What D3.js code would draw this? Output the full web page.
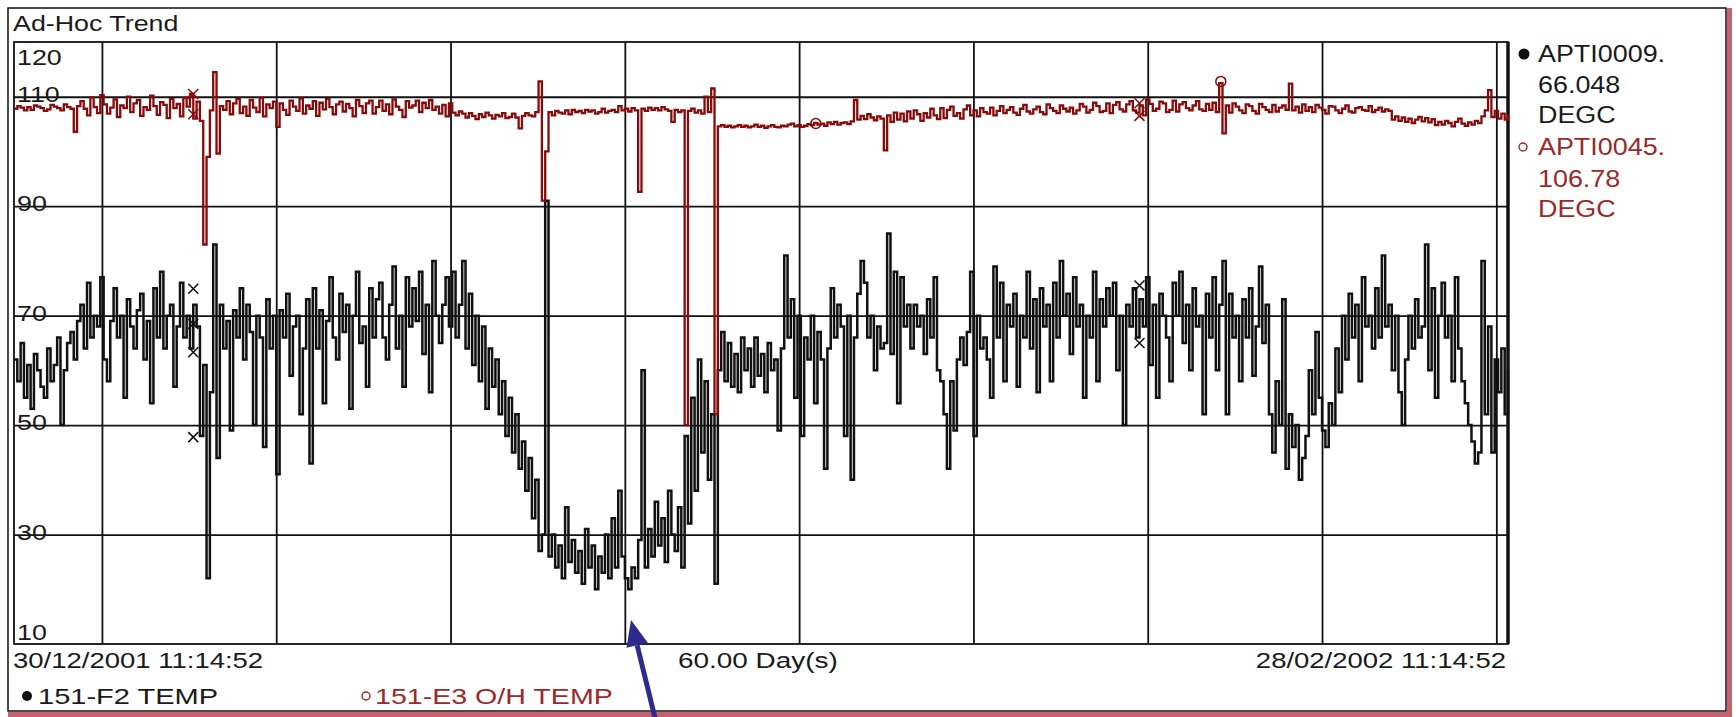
<!DOCTYPE html>
<html><head><meta charset="utf-8">
<script src="https://cdn.jsdelivr.net/npm/d3@7"></script>
<style>
html,body{margin:0;padding:0;background:#fff;}
svg{display:block;}
text{font-family:"Liberation Sans",Arial,sans-serif;}
</style>
</head><body>
<svg id="c" width="1736" height="717"></svg>
<script>
// ---------------- data ----------------
const chartTitle = "Ad-Hoc Trend";
const startLabel = "30/12/2001 11:14:52";
const endLabel = "28/02/2002 11:14:52";
const spanLabel = "60.00 Day(s)";
const yTickLabels = [120, 110, 90, 70, 50, 30, 10];
const yGridValues = [110, 90, 70, 50, 30];
const seriesNames = ["151-F2 TEMP", "151-E3 O/H TEMP"];
const tagNames = ["APTI0009.", "APTI0045."];
const tagValues = ["66.048", "106.78"];
const tagUnits = ["DEGC", "DEGC"];

// 151-F2 TEMP (black), evenly sampled over the 60 days
const f2Temp = [
62,58,65,55,61,53,63,60,57,55,
64,58,61,66,50,60,65,67,62,69,
72,64,76,66,70,68,77,62,58,69,
75,66,70,55,73,68,64,71,74,62,
69,54,75,66,78,64,70,72,57,68,
76,66,70,64,72,68,48,61,22,56,
83,44,72,64,69,49,71,66,75,62,
72,67,50,70,66,46,73,64,70,41,
71,66,74,59,68,70,52,64,73,43,
75,64,71,54,69,77,66,62,74,67,
72,53,70,78,65,68,57,75,66,73,
76,66,62,72,79,64,70,57,77,68,
75,69,78,63,72,56,80,70,65,72,
77,68,78,66,72,80,64,74,61,70,
58,68,53,64,57,62,52,58,48,55,
45,52,42,47,38,44,33,40,27,30,
91,26,30,24,28,22,35,25,29,23,
27,21,31,24,28,20,26,23,30,22,
33,24,38,26,22,20,24,22,29,60,
24,31,26,36,28,33,25,38,30,27,
35,24,48,32,55,38,62,45,58,40,
52,21,60,67,58,65,57,63,56,66,
60,64,57,66,59,63,56,65,60,62,
49,64,81,66,73,55,70,48,66,62,
70,54,67,62,42,64,75,66,72,68,
48,70,40,66,74,80,76,66,70,60,
68,64,65,85,63,78,54,77,68,72,
64,72,68,70,63,73,66,77,60,58,
52,42,58,49,62,66,61,67,78,48,
70,64,66,62,55,79,66,76,58,72,
68,74,57,70,66,78,64,73,56,75,
68,72,58,76,66,80,70,74,63,77,
68,72,55,70,66,78,58,73,68,75,
70,76,60,70,50,72,68,75,66,73,
68,77,61,72,55,74,70,66,58,76,
70,78,65,72,60,75,68,70,52,74,
66,77,60,72,80,52,74,66,70,58,
73,66,75,59,68,79,65,72,52,45,
58,50,73,42,52,46,50,40,44,48,
60,52,67,55,49,46,54,50,64,56,
70,62,74,66,72,58,77,68,70,64,
75,66,81,68,72,60,70,56,50,62,
70,64,73,66,68,83,60,75,55,70,
76,66,70,58,77,64,58,54,50,47,
43,45,80,52,68,45,62,56,64,52,
60
];

// 151-E3 O/H TEMP (dark red), same sampling
const e3Temp = [
107.8,108.3,108.0,107.5,108.1,107.6,108.4,108.2,107.9,107.4,
107.7,108.5,108.2,107.9,107.5,108.6,108.1,107.8,103.6,108.3,
109.2,107.8,106.6,109.9,108.1,107.0,110.3,108.6,106.9,108.0,
109.5,106.3,108.4,107.9,110.0,107.2,108.8,109.4,106.5,108.1,
107.6,110.2,108.3,106.7,109.0,108.5,106.1,109.6,107.9,108.7,
106.4,109.8,108.2,110.5,106.0,109.1,105.6,83.0,99.0,107.5,
114.5,99.6,108.3,107.6,109.2,106.8,108.8,109.6,107.0,108.2,
106.5,109.4,108.0,107.2,109.8,106.4,108.6,107.9,109.1,104.5,
108.8,107.6,106.7,109.3,108.2,107.4,109.7,106.9,108.4,107.8,
109.2,106.5,108.9,107.7,109.6,108.1,106.8,108.6,109.1,107.3,
108.7,107.9,106.4,109.4,108.3,107.0,108.8,109.3,106.9,108.1,
109.3,107.4,108.6,106.8,109.5,108.2,107.6,106.3,109.2,108.0,
108.4,109.3,107.2,108.9,107.9,109.4,107.6,108.2,106.9,108.5,
106.4,108.8,107.1,106.6,107.3,106.9,106.2,107.0,106.5,105.9,
106.8,106.3,107.1,106.6,106.0,106.7,106.4,107.0,106.1,106.3,
106.9,106.2,104.2,106.5,107.0,106.6,106.4,107.2,112.8,91.0,
100.0,107.2,106.6,107.4,107.1,106.9,107.5,106.8,107.6,107.2,
107.4,107.0,107.6,107.3,107.5,106.9,107.2,107.8,107.1,107.4,
107.6,107.2,108.3,107.5,107.8,107.3,107.9,107.5,92.6,107.8,
107.4,108.0,107.6,107.9,107.5,108.1,107.7,107.4,105.4,107.6,
107.2,107.5,50.0,107.4,107.8,107.1,107.5,106.9,110.0,107.2,
111.5,52.0,104.6,104.8,104.5,104.7,104.4,104.6,104.8,104.5,
104.7,104.4,104.6,104.9,104.5,104.7,104.3,104.6,104.8,104.5,
104.4,104.7,104.6,104.9,105.1,104.6,104.8,104.5,104.7,105.0,
104.8,105.2,104.9,105.1,104.7,105.3,105.0,105.4,104.9,105.2,
105.3,105.0,105.5,109.4,105.8,106.5,105.9,106.8,106.2,105.7,
106.4,106.0,100.2,106.6,105.4,107.1,105.8,106.9,105.5,107.3,
106.0,107.5,106.8,105.6,107.0,106.2,107.8,106.6,105.9,107.9,
106.1,107.6,108.2,106.5,107.0,106.0,107.7,108.4,106.6,107.5,
106.4,107.9,107.2,106.9,108.0,106.6,107.4,108.3,107.0,107.6,
108.1,107.1,106.7,107.8,108.5,107.3,106.9,107.7,108.2,107.2,
106.8,108.6,107.9,107.4,107.0,108.4,107.8,107.3,108.0,106.9,
107.5,108.7,108.2,107.1,107.6,108.9,108.3,107.2,107.4,108.8,
107.0,108.5,109.0,107.7,107.3,108.6,109.2,107.5,107.1,108.4,
106.6,109.5,108.7,107.4,107.8,109.1,108.8,107.2,107.6,109.3,
107.3,108.6,109.0,107.9,107.5,108.4,109.2,107.7,107.4,108.7,
107.6,108.9,107.2,112.5,103.3,108.4,107.1,108.8,108.2,107.5,
107.0,108.6,108.3,107.4,106.9,108.7,108.1,107.6,107.2,108.5,
107.3,108.0,108.4,107.6,112.4,107.5,108.2,107.1,108.6,107.4,
108.1,107.2,108.5,108.0,107.6,106.9,108.3,108.2,107.5,107.0,
107.8,108.4,107.3,107.1,107.9,108.1,107.6,107.4,108.3,107.2,
107.6,108.0,107.3,107.7,107.4,105.8,106.4,105.6,106.2,105.4,
106.0,105.2,105.8,106.3,105.5,106.1,105.3,105.9,104.8,105.4,
104.9,105.6,105.2,104.6,105.4,106.0,105.1,104.7,105.3,104.9,
105.6,105.2,106.4,107.5,111.2,106.3,107.4,106.0,106.9,105.8,
106.8
];

// marker points (sample index, value)
const f2CrossMarks = [
  {i: 54, v: 74.9}, {i: 54, v: 68.5}, {i: 54, v: 63.3}, {i: 54, v: 47.8},
  {i: 339, v: 75.5}, {i: 339, v: 65.0}
];
const e3CrossMarks = [
  {i: 54, v: 110.5}, {i: 54, v: 106.8},
  {i: 339, v: 108.8}, {i: 339, v: 106.5}
];
const e3CircleMarks = [{i: 241.5, v: 105.1}, {i: 363.5, v: 112.8}];

// ---------------- chart ----------------
const svg = d3.select("#c");
const W = 1736, H = 717;
const plot = {left: 14, right: 1508, top: 42, bottom: 644};
const black = "#111", red = "#860b0b", redText = "#9a2a2a";

const t0 = new Date(2001, 11, 30, 11, 14, 52);
const t1 = new Date(2002, 1, 28, 11, 14, 52);
const x = d3.scaleTime().domain([t0, t1]).range([plot.left, plot.right]);
const y = d3.scaleLinear().domain([10, 120]).range([plot.bottom, plot.top]);
const step = (t1 - t0) / (f2Temp.length - 1);
const dateAt = i => new Date(+t0 + i * step);

svg.append("rect").attr("width", W).attr("height", H).attr("fill", "#fff");

// outer frame
svg.append("path").attr("d", `M8,711 V8 H1726 V711 Z`).attr("fill", "none")
  .attr("stroke", "#111").attr("stroke-width", 1.5);
svg.append("rect").attr("x", 1727).attr("y", 8).attr("width", 5).attr("height", 709).attr("fill", "#c9626f");
svg.append("rect").attr("x", 8).attr("y", 712).attr("width", 1724).attr("height", 5).attr("fill", "#c9626f");

// gridlines via axes
const gridDates = d3.timeThursday.range(t0, t1);
const gx = svg.append("g").attr("transform", `translate(0,${plot.top})`)
  .call(d3.axisBottom(x).tickValues(gridDates).tickSize(plot.bottom - plot.top).tickFormat(""));
gx.select(".domain").remove();
gx.selectAll("line").attr("stroke", black).attr("stroke-width", 1.8);

const gy = svg.append("g").attr("transform", `translate(${plot.left},0)`)
  .call(d3.axisRight(y).tickValues(yGridValues).tickSize(plot.right - plot.left).tickFormat(""));
gy.select(".domain").remove();
gy.selectAll("line").attr("stroke", black).attr("stroke-width", 1.8);

// plot border
svg.append("rect").attr("x", plot.left).attr("y", plot.top)
  .attr("width", plot.right - plot.left).attr("height", plot.bottom - plot.top)
  .attr("fill", "none").attr("stroke", black).attr("stroke-width", 1.8);
svg.append("line").attr("x1", plot.right).attr("x2", plot.right)
  .attr("y1", plot.top).attr("y2", plot.bottom).attr("stroke", black).attr("stroke-width", 3.5);

// text helper (bitmap-like wide font)
function label(txt, px, py, opts) {
  const o = Object.assign({sx: 1.25, size: 22, fill: "#1a1a1a", anchor: "start"}, opts || {});
  return svg.append("text")
    .attr("transform", `translate(${px},${py}) scale(${o.sx},1)`)
    .attr("font-size", o.size).attr("fill", o.fill).attr("text-anchor", o.anchor).text(txt);
}

// y labels
yTickLabels.forEach(v => {
  let by = y(v) + 5;
  if (v === d3.max(yTickLabels)) by = y(v) + 23;
  if (v === d3.min(yTickLabels)) by = y(v) - 4;
  label(String(v), 17, by, {sx: 1.22});
});

// series (trend recorder draws sample-and-hold steps)
const lineGen = d3.line().x((d, i) => x(dateAt(i))).y(d => y(d)).curve(d3.curveStepAfter);
svg.append("path").datum(f2Temp).attr("d", lineGen).attr("fill", "none")
  .attr("stroke", black).attr("stroke-width", 2.5).attr("stroke-linejoin", "miter");
svg.append("path").datum(e3Temp).attr("d", lineGen).attr("fill", "none")
  .attr("stroke", red).attr("stroke-width", 2.3).attr("stroke-linejoin", "miter");

// markers
function cross(d, color) {
  const cx = x(dateAt(d.i)), cy = y(d.v), s = 5;
  svg.append("path").attr("d", `M${cx - s},${cy - s}L${cx + s},${cy + s}M${cx - s},${cy + s}L${cx + s},${cy - s}`)
    .attr("stroke", color).attr("stroke-width", 1.5).attr("fill", "none");
}
f2CrossMarks.forEach(d => cross(d, black));
e3CrossMarks.forEach(d => cross(d, red));
e3CircleMarks.forEach(d => {
  svg.append("circle").attr("cx", x(dateAt(d.i))).attr("cy", y(d.v)).attr("r", 5)
    .attr("fill", "none").attr("stroke", red).attr("stroke-width", 1.5);
});

// title and x labels
label(chartTitle, 13, 31, {sx: 1.22});
label(startLabel, 13, 668);
label(spanLabel, 678, 668, {sx: 1.27});
label(endLabel, 1506, 668, {anchor: "end"});

// bottom legend
svg.append("circle").attr("cx", 27).attr("cy", 696).attr("r", 5).attr("fill", black);
label(seriesNames[0], 38, 704, {sx: 1.32});
svg.append("circle").attr("cx", 366).attr("cy", 696).attr("r", 4).attr("fill", "none")
  .attr("stroke", redText).attr("stroke-width", 1.4);
label(seriesNames[1], 375, 704, {sx: 1.3, fill: redText});

// right legend
const lx = 1538;
svg.append("circle").attr("cx", 1524).attr("cy", 54).attr("r", 5.5).attr("fill", black);
label(tagNames[0], lx, 62, {sx: 1.17, size: 23});
label(tagValues[0], lx, 93, {sx: 1.17, size: 23});
label(tagUnits[0], lx, 123, {sx: 1.17, size: 23});
svg.append("circle").attr("cx", 1523).attr("cy", 147).attr("r", 4).attr("fill", "none")
  .attr("stroke", redText).attr("stroke-width", 1.4);
label(tagNames[1], lx, 155, {sx: 1.17, size: 23, fill: redText});
label(tagValues[1], lx, 187, {sx: 1.17, size: 23, fill: redText});
label(tagUnits[1], lx, 217, {sx: 1.17, size: 23, fill: redText});

// annotation arrow (navy)
const tip = [631, 620], tail = [656, 722];
const ang = Math.atan2(tip[1] - tail[1], tip[0] - tail[0]);
const hl = 26, hw = 11;
const bx = tip[0] - hl * Math.cos(ang), by = tip[1] - hl * Math.sin(ang);
svg.append("line").attr("x1", tail[0]).attr("y1", tail[1]).attr("x2", bx).attr("y2", by)
  .attr("stroke", "#2c2c8c").attr("stroke-width", 5);
svg.append("path").attr("d",
  `M${tip[0]},${tip[1]}L${bx + hw * Math.sin(ang)},${by - hw * Math.cos(ang)}L${bx - hw * Math.sin(ang)},${by + hw * Math.cos(ang)}Z`)
  .attr("fill", "#2c2c8c");
</script>
</body></html>
